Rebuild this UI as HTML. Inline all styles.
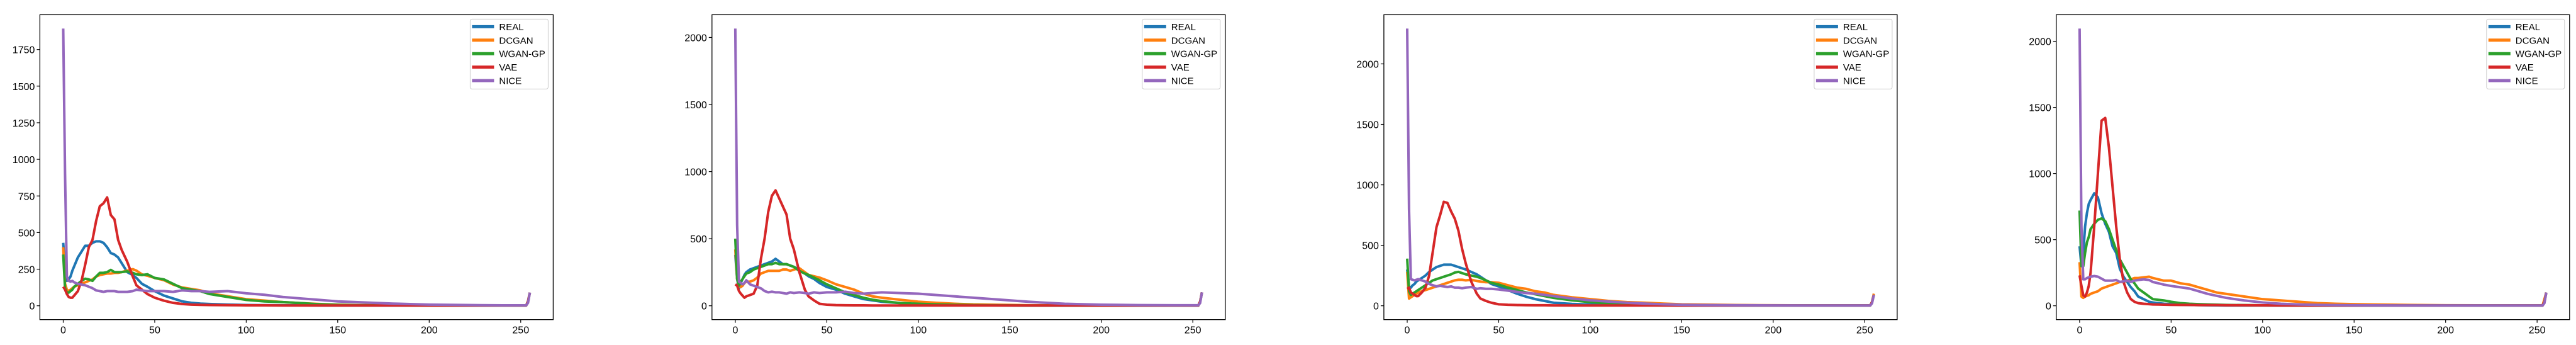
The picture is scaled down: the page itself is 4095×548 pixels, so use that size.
<!DOCTYPE html>
<html><head><meta charset="utf-8"><style>
html,body{margin:0;padding:0;background:#fff;}
svg{display:block;font-family:"Liberation Sans",sans-serif;}
</style></head><body>
<svg id="fig" width="4095" height="548" viewBox="0 0 4095 548" xmlns="http://www.w3.org/2000/svg"></svg>
<script>
const xs=[0,1,2,3,4,5,6,8,10,12,14,16,18,20,22,24,26,28,30,32,35,38,40,43,46,50,55,60,65,70,75,80,90,100,110,120,130,140,150,160,180,200,220,240,253,254,255];
const seriesNames=["REAL","DCGAN","WGAN-GP","VAE","NICE"];
const seriesColors=["#1f77b4","#ff7f0e","#2ca02c","#d62728","#9467bd"];
const xTicks=[0,50,100,150,200,250];
const yTicks1=[0,250,500,750,1000,1250,1500,1750];
const yTicks2=[0,500,1000,1500,2000];
const c1Real=[430,250,170,180,200,240,270,330,370,410,410,430,440,440,430,400,360,350,330,290,230,210,190,150,130,100,70,50,30,20,15,12,8,5,4,3,3,2,2,2,2,2,2,2,2,30,90];
const c1Dcgan=[400,150,110,100,110,120,130,140,150,160,170,180,200,210,215,220,220,225,225,230,240,250,240,215,205,190,175,145,125,115,105,85,65,45,35,25,18,12,8,5,3,2,2,2,2,30,90];
const c1Wgan=[350,120,90,90,100,110,130,150,170,185,180,170,200,225,225,230,245,230,230,230,235,225,215,210,215,190,180,150,120,110,100,80,60,40,30,25,18,10,6,4,3,2,2,2,2,30,90];
const c1Vae=[130,110,80,60,55,55,70,100,170,280,400,450,580,680,700,740,620,590,450,380,300,200,140,110,80,55,35,20,12,8,6,5,4,3,3,2,2,2,2,2,2,2,2,2,2,30,90];
const c1Nice=[1893,900,200,170,165,170,160,150,145,140,130,120,105,100,95,100,100,100,95,95,95,100,110,105,100,100,100,95,105,100,100,95,100,85,75,60,50,40,30,25,15,8,5,3,3,20,90];
const c2Real=[380,200,130,170,200,230,250,270,280,290,300,310,320,330,350,330,310,310,300,290,270,240,220,200,170,140,120,90,70,50,40,30,20,12,8,5,4,3,2,1,1,1,1,1,1,30,100];
const c2Dcgan=[420,200,150,140,150,170,180,180,190,210,240,250,260,260,260,260,270,270,260,270,280,250,230,220,210,190,160,140,120,90,70,60,45,30,22,15,10,8,6,4,3,2,2,2,2,30,100];
const c2Wgan=[500,200,150,180,200,220,240,250,270,280,290,300,310,310,320,310,310,310,300,290,260,240,230,210,190,160,130,100,80,60,45,35,20,15,10,7,5,4,3,2,2,2,2,2,2,30,100];
const c2Vae=[160,150,110,90,75,60,70,80,90,150,350,500,700,820,860,800,740,680,500,420,250,120,70,40,15,8,5,4,3,3,2,2,2,2,2,2,2,2,2,2,2,2,2,2,2,30,100];
const c2Nice=[2066,600,180,170,160,170,190,160,150,140,130,110,100,105,100,100,95,90,100,95,100,95,90,100,95,100,100,105,95,90,95,100,95,90,80,70,60,50,40,30,15,8,5,4,4,20,100];
const c3Real=[300,160,150,170,180,200,210,230,250,280,300,320,330,340,340,340,330,320,310,300,280,260,240,210,180,160,130,100,75,55,40,25,15,10,7,5,4,3,2,2,2,2,2,2,2,30,90];
const c3Dcgan=[280,60,70,80,90,100,110,120,130,140,150,160,170,180,190,200,210,215,215,210,215,205,200,195,195,190,170,150,140,120,110,90,70,55,40,30,25,18,12,10,6,4,3,3,3,30,100];
const c3Wgan=[390,120,90,100,110,120,130,150,170,190,210,220,230,240,250,260,275,280,270,260,250,240,230,210,190,175,150,130,110,95,80,65,45,30,20,14,10,7,5,4,3,2,2,2,2,30,90];
const c3Vae=[140,150,110,100,90,80,80,110,150,250,450,650,750,860,850,780,720,620,470,350,200,100,60,40,25,12,8,6,5,4,4,3,2,2,2,2,2,2,2,2,2,2,2,2,2,30,90];
const c3Nice=[2292,800,220,215,210,215,220,210,200,180,170,160,165,160,155,160,150,150,145,150,155,140,145,140,140,135,125,115,105,100,90,80,60,45,35,25,18,12,8,6,4,3,2,2,2,20,90];
const c4Real=[450,300,400,600,700,770,800,850,820,700,620,560,450,400,280,220,180,140,110,70,50,30,25,20,15,12,8,6,5,4,3,2,2,2,2,2,2,2,2,2,2,2,2,2,2,30,100];
const c4Dcgan=[330,70,60,70,75,80,90,100,110,130,140,150,160,170,180,180,190,200,210,210,215,220,210,200,190,190,170,160,140,120,100,90,70,50,40,30,20,15,12,10,6,4,3,3,3,50,100];
const c4Wgan=[720,300,300,400,480,520,580,620,650,660,640,580,500,420,350,300,250,200,170,130,100,70,50,45,40,30,20,15,12,10,8,6,5,3,2,2,2,2,2,2,2,2,2,2,2,30,100];
const c4Vae=[230,150,80,70,100,150,250,600,1000,1400,1420,1200,900,600,350,180,100,50,30,20,15,12,10,9,8,7,6,6,5,5,5,4,4,3,2,2,2,2,2,2,2,2,2,2,2,30,100];
const c4Nice=[2096,600,200,200,210,215,220,225,220,205,190,190,190,195,180,185,190,180,190,195,200,195,180,170,160,150,140,130,110,90,75,60,40,25,15,10,7,5,4,3,2,2,2,2,2,20,100];

const NS="http://www.w3.org/2000/svg";
const fig=document.getElementById('fig');
function mk(tag,attrs,parent){const e=document.createElementNS(NS,tag);for(const k in attrs)e.setAttribute(k,attrs[k]);(parent||fig).appendChild(e);return e;}

const charts=[
 {series:[c1Real,c1Dcgan,c1Wgan,c1Vae,c1Nice],yt:yTicks1},
 {series:[c2Real,c2Dcgan,c2Wgan,c2Vae,c2Nice],yt:yTicks2},
 {series:[c3Real,c3Dcgan,c3Wgan,c3Vae,c3Nice],yt:yTicks2},
 {series:[c4Real,c4Dcgan,c4Wgan,c4Vae,c4Nice],yt:yTicks2}
];
const axLefts=[63.4,1131.8,2199.9,3268.8];
const axW=816, axTop=23.4, axBot=507.7;

charts.forEach((ch,ci)=>{
  const L=axLefts[ci], R=L+axW;
  const g=mk('g',{});
  
  
  let M=0; ch.series.forEach(s=>s.forEach(v=>{if(v>M)M=v;}));
  const ymin=-0.05*M, ymax=1.05*M;
  const xmin=-12.75, xmax=267.75;
  const X=v=>L+(v-xmin)/(xmax-xmin)*axW;
  const Y=v=>axBot-(v-ymin)/(ymax-ymin)*(axBot-axTop);
  const clip=mk('clipPath',{id:'clip'+ci},g);
  mk('rect',{x:L,y:axTop,width:axW,height:axBot-axTop},clip);
  const lines=mk('g',{'clip-path':'url(#clip'+ci+')'},g);
  ch.series.forEach((s,si)=>{
    const d=s.map((v,i)=>(i?'L':'M')+X(xs[i]).toFixed(2)+' '+Y(v).toFixed(2)).join(' ');
    const p=mk('path',{d:d,fill:'none',stroke:seriesColors[si],'stroke-width':4,'stroke-linejoin':'round'},lines);
    
    
  });
  const frame=mk('rect',{x:L,y:axTop,width:axW,height:axBot-axTop,fill:'none',stroke:'#000','stroke-width':1.3},g);
  
  
  xTicks.forEach(t=>{
    const x=X(t);
    mk('line',{x1:x,x2:x,y1:axBot,y2:axBot+5,stroke:'#000','stroke-width':1.2},g);
    const tx=mk('text',{x:x,y:axBot+22,'text-anchor':'middle','font-size':16,fill:'#000'},g);
    tx.textContent=t;
    
    
  });
  ch.yt.forEach(t=>{
    const y=Y(t);
    mk('line',{x1:L-5,x2:L,y1:y,y2:y,stroke:'#000','stroke-width':1.2},g);
    const ty=mk('text',{x:L-8,y:y+6,'text-anchor':'end','font-size':16,fill:'#000'},g);
    ty.textContent=t;
    
    
  });
  const lg=mk('g',{},g);
  
  
  const lx=R-8-124, ly=axTop+7;
  mk('rect',{x:lx,y:ly,width:124,height:111,rx:3,fill:'#fff','fill-opacity':0.8,stroke:'#ccc','stroke-width':1},lg);
  seriesNames.forEach((n,si)=>{
    const yy=ly+12+si*21.4;
    const h=mk('line',{x1:lx+3,x2:lx+38,y1:yy,y2:yy,stroke:seriesColors[si],'stroke-width':5},lg);
    
    
    const t=mk('text',{x:lx+46,y:yy+5.5,'font-size':15,fill:'#000'},lg);
    t.textContent=n;
    
    
  });
});
</script>
</body></html>
